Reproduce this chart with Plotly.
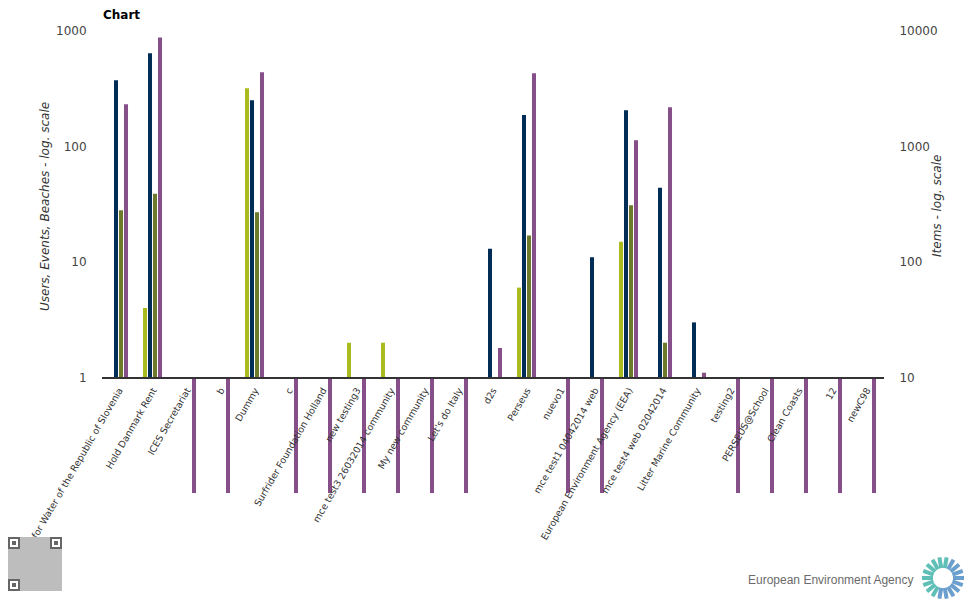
import math
import plotly.graph_objects as go

categories = [
    "Institute for Water of the Republic of Slovenia", "Hold Danmark Rent",
    "ICES Secretariat", "b", "Dummy", "c", "Surfrider Foundation Holland",
    "new testing3", "mce test3 26032014 community", "My new community",
    "Let's do Italy", "d2s", "Perseus", "nuevo1", "mce test1 04042014 web",
    "European Environment Agency (EEA)", "mce test4 web 02042014",
    "Litter Marine Community", "testing2", "PERSEUS@School", "Clean Coasts",
    "12", "newC98",
]

# left axis series (log scale, 1..1000)
events = [None, 4, None, None, 320, None, None, 2, 2, None, None, None, 6,
          None, None, 15, None, None, None, None, None, None, None]
users = [375, 641, None, None, 252, None, None, None, None, None, None, 13, 187,
         None, 11, 206, 44, 3, None, None, None, None, None]
beaches = [28, 39, None, None, 27, None, None, None, None, None, None, None, 17,
           None, None, 31, 2, None, None, None, None, None, None]
# right axis series (log scale, 10..10000)
items = [2320, 8800, 1, 1, 4400, 1, 1, 1, 1, 1, 1, 18, 4300, 1, 1, 1135, 2190,
         11, 1, 1, 1, 1, 1]

tick_left = [1, 10, 100, 1000]
tick_right = [10, 100, 1000, 10000]

COL_LIME = "#a9bb1f"
COL_NAVY = "#002d56"
COL_OLIVE = "#6d7a2b"
COL_PURPLE = "#874f8a"

BW = 0.118
fig = go.Figure()


def left_bar(name, vals, color, offset):
    base_val = tick_left[0]
    size = [None if v is None else v - base_val for v in vals]
    fig.add_trace(go.Bar(
        name=name, x=categories, y=size, base=base_val, customdata=vals,
        hovertemplate="%{x}<br>" + name + ": %{customdata}<extra></extra>",
        marker=dict(color=color, line=dict(width=0)),
        width=BW, offset=offset, yaxis="y", showlegend=False))


left_bar("Events", events, COL_LIME, -0.294)
left_bar("Users", users, COL_NAVY, -0.147)
left_bar("Beaches", beaches, COL_OLIVE, 0.0)

base_r = tick_right[0]
fig.add_trace(go.Bar(
    name="Items", x=categories,
    y=[None if v is None else v - base_r for v in items], base=base_r,
    customdata=items,
    hovertemplate="%{x}<br>Items: %{customdata}<extra></extra>",
    marker=dict(color=COL_PURPLE, line=dict(width=0)),
    width=BW, offset=0.147, yaxis="y2", showlegend=False))

L, R, T, B = 102, 91, 31, 107
W, H = 975 - L - R, 600 - T - B


def px(x):
    return (x - L) / W


def py(y):
    return (600 - B - y) / H


shapes = []
# EEA flower logo (decoration)
cx, cy = 943, 578
for i in range(18):
    a = 2 * math.pi * i / 18
    col = "#5fbfb6" if (a > math.pi * 0.35 and a < math.pi * 1.35) else "#6b9fcd"
    r0, r1 = 10, 21
    shapes.append(dict(
        type="line", xref="paper", yref="paper",
        x0=px(cx + r0 * math.cos(a)), y0=py(cy - r0 * math.sin(a)),
        x1=px(cx + r1 * math.cos(a)), y1=py(cy - r1 * math.sin(a)),
        line=dict(color=col, width=4)))

# QR-code placeholder (decoration)
qx0, qy0, qs = 8, 537, 54
shapes.append(dict(type="rect", xref="paper", yref="paper", layer="above",
                   x0=px(qx0), x1=px(qx0 + qs), y0=py(qy0), y1=py(qy0 + qs),
                   fillcolor="#bdbdbd", line=dict(width=0)))
for fx, fy in [(0, 0), (qs - 12, 0), (0, qs - 12)]:
    shapes.append(dict(type="rect", xref="paper", yref="paper", layer="above",
                       x0=px(qx0 + fx + 1), x1=px(qx0 + fx + 11),
                       y0=py(qy0 + fy + 1), y1=py(qy0 + fy + 11),
                       fillcolor="white", line=dict(color="#666", width=2)))
    shapes.append(dict(type="rect", xref="paper", yref="paper", layer="above",
                       x0=px(qx0 + fx + 4), x1=px(qx0 + fx + 8),
                       y0=py(qy0 + fy + 4), y1=py(qy0 + fy + 8),
                       fillcolor="#666", line=dict(width=0)))

fig.update_layout(
    width=975, height=600,
    margin=dict(l=L, r=R, t=T, b=B, autoexpand=False),
    paper_bgcolor="white", plot_bgcolor="white",
    barmode="overlay",
    font=dict(family="DejaVu Sans", size=12, color="#444"),
    title=dict(text="<b>Chart</b>", x=px(103), xref="paper", xanchor="left",
               y=1 - 15 / 600, yanchor="middle", automargin=False,
               font=dict(family="DejaVu Sans", size=12, color="#000")),
    xaxis=dict(type="category", range=[-0.5, len(categories) - 0.5],
               anchor="free", position=0.25, showline=True, automargin=False,
               linecolor="#333", linewidth=1.5, showgrid=False,
               tickangle=-60, ticks="outside", ticklen=3,
               tickcolor="rgba(0,0,0,0)",
               tickfont=dict(family="DejaVu Sans", size=9.4, color="#333")),
    yaxis=dict(type="log", range=[-1, 3], tickvals=tick_left, automargin=False,
               ticktext=[str(v) for v in tick_left], showgrid=False,
               showline=False, zeroline=False, ticks="outside", ticklen=12,
               tickcolor="rgba(0,0,0,0)",
               tickfont=dict(size=12, color="#444")),
    yaxis2=dict(type="log", range=[0, 4], overlaying="y", side="right",
                automargin=False,
                tickvals=tick_right, ticktext=[str(v) for v in tick_right],
                showgrid=False, showline=False, zeroline=False,
                ticks="outside", ticklen=12, tickcolor="rgba(0,0,0,0)",
                tickfont=dict(size=12, color="#444")),
    annotations=[
        dict(text="<i>Users, Events, Beaches - log. scale</i>", xref="paper",
             yref="paper", x=px(45), y=py(206), textangle=-90,
             xanchor="center", yanchor="middle",
             showarrow=False, font=dict(size=12, color="#333")),
        dict(text="<i>Items - log. scale</i>", xref="paper", yref="paper",
             x=px(937), y=py(206), textangle=-90, showarrow=False,
             xanchor="center", yanchor="middle",
             font=dict(size=12, color="#333")),
        dict(text="European Environment Agency", xref="paper", yref="paper",
             x=px(915), y=py(580), xanchor="right", yanchor="middle",
             showarrow=False,
             font=dict(family="Liberation Sans", size=12, color="#6b6b6b")),
    ],
    shapes=shapes,
)

fig.write_html("out.html", config={"displayModeBar": False},
               post_script="document.body.style.margin='0';")
